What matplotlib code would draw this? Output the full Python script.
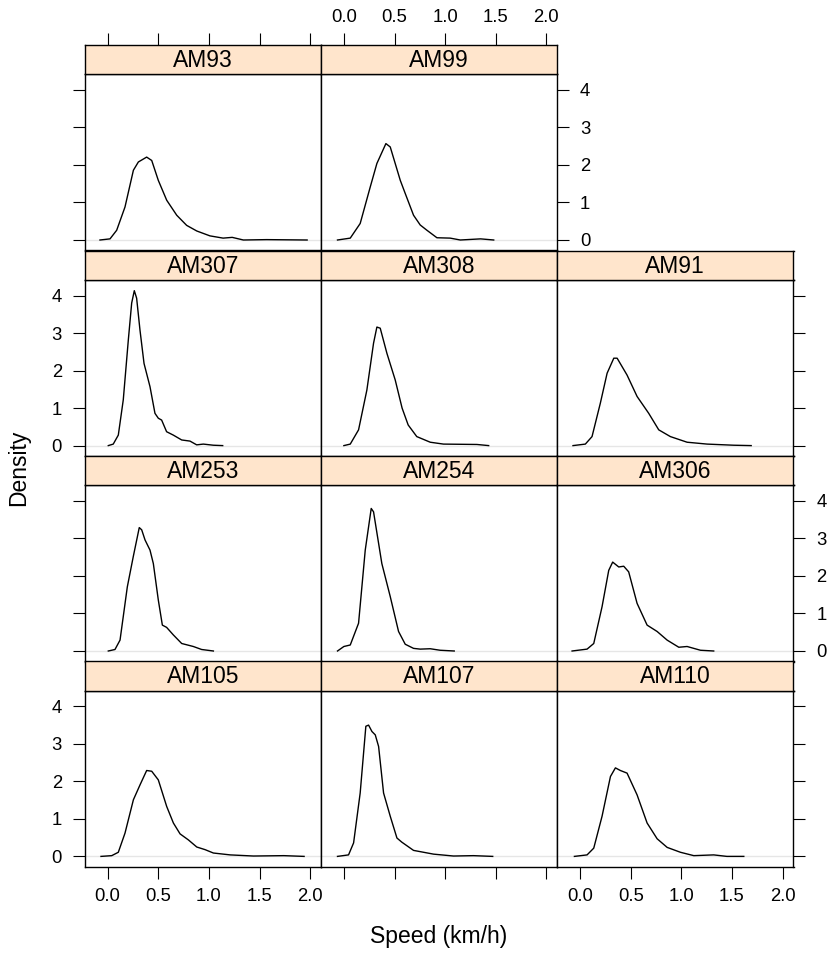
import matplotlib.pyplot as plt

plt.rcParams['font.family'] = ['Liberation Sans', 'DejaVu Sans']

# density curves, one pair of arrays per animal
am93_x = [-0.076, 0.023, 0.089, 0.171, 0.254, 0.303, 0.385, 0.435, 0.50, 0.583, 0.682, 0.78, 0.88, 1.01, 1.14, 1.23, 1.34, 1.57, 1.97]
am93_y = [0.0, 0.03, 0.26, 0.88, 1.86, 2.08, 2.21, 2.12, 1.59, 1.06, 0.66, 0.39, 0.24, 0.11, 0.05, 0.07, 0.0, 0.01, 0.0]

am99_x = [-0.063, 0.063, 0.161, 0.26, 0.326, 0.415, 0.458, 0.557, 0.606, 0.688, 0.754, 0.82, 0.919, 1.05, 1.15, 1.35, 1.48]
am99_y = [0.0, 0.05, 0.44, 1.41, 2.04, 2.57, 2.48, 1.59, 1.24, 0.66, 0.40, 0.26, 0.06, 0.05, 0.0, 0.03, 0.0]

am307_x = [0.006, 0.055, 0.105, 0.154, 0.204, 0.237, 0.263, 0.286, 0.319, 0.359, 0.418, 0.467, 0.50, 0.533, 0.582, 0.648, 0.731, 0.813, 0.879, 0.945, 1.044, 1.136]
am307_y = [0.0, 0.04, 0.28, 1.22, 2.82, 3.80, 4.13, 3.93, 3.08, 2.19, 1.57, 0.86, 0.73, 0.68, 0.37, 0.28, 0.15, 0.12, 0.02, 0.04, 0.01, 0.0]

am308_x = [0.0, 0.063, 0.145, 0.227, 0.293, 0.326, 0.359, 0.425, 0.507, 0.575, 0.635, 0.72, 0.853, 0.984, 1.149, 1.314, 1.43]
am308_y = [0.0, 0.04, 0.42, 1.48, 2.73, 3.16, 3.13, 2.46, 1.75, 1.0, 0.55, 0.24, 0.09, 0.04, 0.035, 0.03, 0.0]

am91_x = [-0.07, 0.052, 0.118, 0.2, 0.267, 0.333, 0.366, 0.464, 0.563, 0.678, 0.777, 0.892, 1.057, 1.255, 1.518, 1.69]
am91_y = [0.0, 0.04, 0.24, 1.13, 1.93, 2.33, 2.33, 1.88, 1.31, 0.86, 0.42, 0.24, 0.09, 0.04, 0.01, 0.0]

am253_x = [0.006, 0.072, 0.122, 0.194, 0.253, 0.312, 0.336, 0.369, 0.418, 0.451, 0.50, 0.540, 0.582, 0.648, 0.731, 0.846, 0.928, 1.044]
am253_y = [0.0, 0.04, 0.29, 1.71, 2.52, 3.29, 3.23, 2.96, 2.69, 2.33, 1.36, 0.69, 0.63, 0.43, 0.20, 0.12, 0.04, 0.0]

am254_x = [-0.063, 0.0, 0.063, 0.145, 0.211, 0.27, 0.293, 0.375, 0.458, 0.54, 0.606, 0.688, 0.754, 0.853, 0.95, 1.09]
am254_y = [0.0, 0.12, 0.16, 0.74, 2.69, 3.80, 3.71, 2.33, 1.45, 0.52, 0.18, 0.07, 0.05, 0.06, 0.02, 0.0]

am306_x = [-0.079, 0.069, 0.135, 0.217, 0.283, 0.322, 0.382, 0.431, 0.48, 0.563, 0.662, 0.761, 0.86, 0.975, 1.057, 1.189, 1.32]
am306_y = [0.0, 0.05, 0.20, 1.18, 2.15, 2.37, 2.24, 2.26, 2.11, 1.27, 0.69, 0.52, 0.29, 0.10, 0.12, 0.02, 0.0]

am105_x = [-0.066, 0.04, 0.105, 0.171, 0.254, 0.32, 0.385, 0.435, 0.50, 0.583, 0.649, 0.715, 0.797, 0.88, 0.962, 1.044, 1.21, 1.44, 1.74, 1.94]
am105_y = [0.0, 0.02, 0.11, 0.62, 1.51, 1.91, 2.29, 2.27, 2.04, 1.33, 0.89, 0.60, 0.44, 0.25, 0.18, 0.09, 0.04, 0.01, 0.02, 0.0]

am107_x = [-0.063, 0.046, 0.096, 0.161, 0.217, 0.244, 0.277, 0.31, 0.343, 0.392, 0.458, 0.524, 0.572, 0.688, 0.886, 1.083, 1.28, 1.47]
am107_y = [0.0, 0.04, 0.36, 1.69, 3.47, 3.50, 3.33, 3.24, 2.93, 1.69, 1.07, 0.49, 0.38, 0.16, 0.06, 0.01, 0.02, 0.0]

am110_x = [-0.056, 0.069, 0.135, 0.217, 0.30, 0.349, 0.398, 0.464, 0.563, 0.662, 0.761, 0.86, 0.991, 1.123, 1.32, 1.45, 1.617]
am110_y = [0.0, 0.04, 0.22, 1.07, 2.13, 2.36, 2.29, 2.22, 1.64, 0.89, 0.47, 0.24, 0.11, 0.02, 0.04, 0.0, 0.0]

x_ticks = [0.0, 0.5, 1.0, 1.5, 2.0]
x_tick_labels = ['0.0', '0.5', '1.0', '1.5', '2.0']
y_ticks = [0, 1, 2, 3, 4]
y_tick_labels = ['0', '1', '2', '3', '4']

# (name, x, y, row from top, column)
panels = [
    ('AM93', am93_x, am93_y, 0, 0), ('AM99', am99_x, am99_y, 0, 1),
    ('AM307', am307_x, am307_y, 1, 0), ('AM308', am308_x, am308_y, 1, 1), ('AM91', am91_x, am91_y, 1, 2),
    ('AM253', am253_x, am253_y, 2, 0), ('AM254', am254_x, am254_y, 2, 1), ('AM306', am306_x, am306_y, 2, 2),
    ('AM105', am105_x, am105_y, 3, 0), ('AM107', am107_x, am107_y, 3, 1), ('AM110', am110_x, am110_y, 3, 2),
]

W, H = 829, 955
fig = plt.figure(figsize=(W / 100, H / 100), dpi=100)

def box(l, t, w, h):
    return [l / W, 1 - (t + h) / H, w / W, h / H]

col_left = [84.7, 320.9, 557.1]
col_w = 236.4
strip_top = [45.0, 250.6, 456.0, 661.4]
strip_h = 29.2
panel_h = 176.3
xlim = (-0.227, 2.108)
ylim = (-0.28, 4.42)

tick_len = 8.4
fs_tick = 13.3
fs_lab = 16.5

n_cols_in_row = {0: 2, 1: 3, 2: 3, 3: 3}

for name, xs, ys, r, c in panels:
    l = col_left[c]
    st = strip_top[r]
    ax = fig.add_axes(box(l, st + strip_h, col_w, panel_h))
    ax.plot(xlim, [0, 0], color='#e6e6e6', lw=1.0, zorder=1)
    ax.plot(xs, ys, color='black', lw=1.0, zorder=2)
    ax.set_xlim(*xlim)
    ax.set_ylim(*ylim)
    ax.set_xticks(x_ticks)
    ax.set_xticklabels(x_tick_labels)
    ax.set_yticks(y_ticks)
    ax.set_yticklabels(y_tick_labels)
    for sp in ax.spines.values():
        sp.set_linewidth(1.0)

    is_bottom = (r == 3)
    is_left = (c == 0)
    is_right = (c == n_cols_in_row[r] - 1)
    ax.tick_params(direction='out', length=tick_len, width=0.8, labelsize=fs_tick,
                   top=False, labeltop=False,
                   bottom=is_bottom, labelbottom=is_bottom and c != 1,
                   left=is_left, labelleft=is_left and r in (1, 3),
                   right=is_right, labelright=is_right and r in (0, 2))
    ax.tick_params(axis='y', pad=8)
    ax.tick_params(axis='x', pad=7)

    sax = fig.add_axes(box(l, st, col_w, strip_h))
    sax.set_facecolor('#ffe5cc')
    sax.set_xlim(*xlim)
    sax.set_ylim(0, 1)
    sax.set_yticks([])
    for sp in sax.spines.values():
        sp.set_linewidth(1.0)
    sax.text(0.5, 0.47, name, transform=sax.transAxes, ha='center', va='center', fontsize=fs_lab)
    if r == 0:
        sax.set_xticks(x_ticks)
        sax.set_xticklabels(x_tick_labels)
        sax.tick_params(direction='out', length=tick_len, width=0.8, labelsize=fs_tick, pad=5,
                        bottom=False, labelbottom=False, top=True, labeltop=(c == 1))
    else:
        sax.set_xticks([])

fig.text(19 / W, 1 - 468 / H, 'Density', rotation=90, ha='center', va='center', fontsize=fs_lab)
fig.text(438.5 / W, 1 - 936 / H, 'Speed (km/h)', ha='center', va='center', fontsize=fs_lab)

fig.savefig('out.png', dpi=100)
